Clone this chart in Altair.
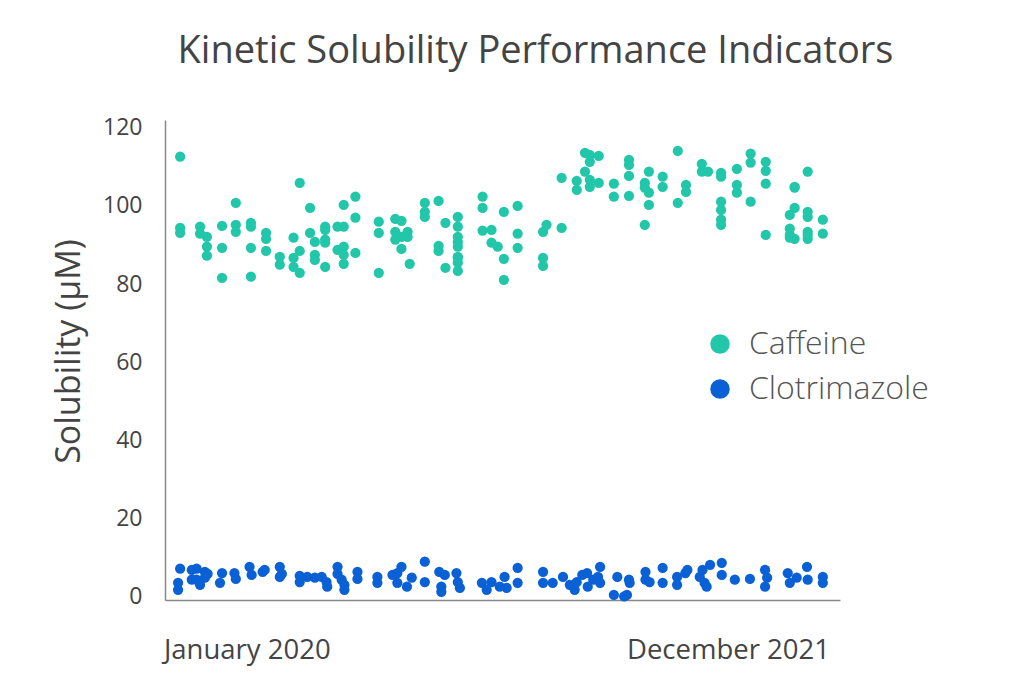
import altair as alt
import pandas as pd

# ---- data ----
caff_dates = [
    "2019-09-26", "2019-09-26", "2019-09-26",
    "2019-10-25", "2019-10-25",
    "2019-11-04", "2019-11-04", "2019-11-04",
    "2019-11-26", "2019-11-26", "2019-11-26",
    "2019-12-16", "2019-12-16", "2019-12-16",
    "2020-01-07", "2020-01-07", "2020-01-07", "2020-01-07",
    "2020-01-29", "2020-01-29", "2020-01-29",
    "2020-02-18", "2020-02-18",
    "2020-03-09", "2020-03-09", "2020-03-09",
    "2020-03-18", "2020-03-18", "2020-03-18",
    "2020-04-02", "2020-04-02",
    "2020-04-09", "2020-04-09", "2020-04-09",
    "2020-04-24", "2020-04-24", "2020-04-24", "2020-04-24", "2020-04-24",
    "2020-05-12", "2020-05-12",
    "2020-05-21", "2020-05-21", "2020-05-21", "2020-05-21", "2020-05-21",
    "2020-06-07", "2020-06-07", "2020-06-07",
    "2020-07-11", "2020-07-11", "2020-07-11",
    "2020-08-04", "2020-08-04", "2020-08-04",
    "2020-08-13", "2020-08-13", "2020-08-13",
    "2020-08-22", "2020-08-22",
    "2020-08-25",
    "2020-09-16", "2020-09-16", "2020-09-16",
    "2020-10-06", "2020-10-06", "2020-10-06",
    "2020-10-16", "2020-10-16",
    "2020-11-03", "2020-11-03", "2020-11-03", "2020-11-03", "2020-11-03",
    "2020-11-03", "2020-11-03", "2020-11-03", "2020-11-03",
    "2020-12-09", "2020-12-09", "2020-12-09",
    "2020-12-22", "2020-12-22",
    "2020-12-31",
    "2021-01-09", "2021-01-09", "2021-01-09",
    "2021-01-29", "2021-01-29", "2021-01-29",
    "2021-03-07", "2021-03-07", "2021-03-07",
    "2021-03-12",
    "2021-04-03", "2021-04-03",
    "2021-04-25", "2021-04-25",
    "2021-05-07", "2021-05-07",
    "2021-05-14", "2021-05-14", "2021-05-14", "2021-05-14",
    "2021-05-27", "2021-05-27",
    "2021-06-18", "2021-06-18",
    "2021-07-10", "2021-07-10", "2021-07-10", "2021-07-10",
    "2021-08-02", "2021-08-02", "2021-08-02",
    "2021-08-08", "2021-08-08", "2021-08-08",
    "2021-08-28", "2021-08-28",
    "2021-09-19", "2021-09-19",
    "2021-10-01", "2021-10-01",
    "2021-10-24", "2021-10-24",
    "2021-11-02",
    "2021-11-21", "2021-11-21", "2021-11-21", "2021-11-21", "2021-11-21", "2021-11-21",
    "2021-12-14", "2021-12-14", "2021-12-14",
    "2022-01-03", "2022-01-03", "2022-01-03",
    "2022-01-25", "2022-01-25", "2022-01-25", "2022-01-25",
    "2022-03-01", "2022-03-01", "2022-03-01", "2022-03-01",
    "2022-03-08", "2022-03-08", "2022-03-08", "2022-03-08",
    "2022-03-27", "2022-03-27", "2022-03-27", "2022-03-27", "2022-03-27", "2022-03-27",
    "2022-04-18", "2022-04-18",
]
caff_vals = [
    112.6, 94.4, 93.1,
    94.7, 92.9,
    92.1, 89.6, 87.3,
    94.9, 89.3, 81.6,
    100.8, 95.2, 93.4,
    95.7, 94.7, 89.3, 81.9,
    93.1, 91.6, 88.5,
    87.0, 85.0,
    91.9, 86.7, 84.4,
    105.9, 88.5, 82.9,
    99.5, 93.1,
    90.8, 87.5, 86.2,
    94.7, 93.9, 91.4, 90.6, 84.4,
    94.7, 88.8,
    100.3, 94.7, 89.6, 87.5, 85.2,
    102.4, 97.0, 88.0,
    96.0, 93.1, 82.9,
    96.7, 93.4, 91.4,
    96.2, 92.1, 89.0,
    93.4, 92.1,
    85.2,
    100.8, 98.5, 97.2,
    101.3, 89.8, 88.5,
    95.7, 84.2,
    97.2, 94.7, 92.1, 90.8, 89.6,
    87.0, 86.7, 85.5, 83.4,
    102.4, 99.5, 93.7,
    93.9, 90.6,
    89.6,
    98.5, 86.5, 81.1,
    100.0, 92.9, 89.3,
    93.4, 86.7, 84.7,
    95.2,
    94.4, 107.2,
    106.4, 104.1,
    113.6, 108.8,
    113.1, 111.3, 106.7, 104.9,
    112.8, 105.9,
    105.7, 102.4,
    111.8, 110.5, 107.7, 102.6,
    105.9, 104.7, 95.2,
    108.8, 103.4, 100.3,
    107.5, 104.9,
    114.1, 100.8,
    105.4, 103.6,
    110.8, 108.8,
    108.8,
    108.5, 107.5, 101.1, 99.0, 96.5, 95.2,
    109.5, 105.4, 103.4,
    113.4, 111.1, 101.1,
    111.3, 109.0, 105.7, 92.6,
    97.7, 94.2, 92.6, 91.9,
    104.9, 104.7, 99.5, 91.6,
    108.8, 98.5, 97.2, 93.4, 92.6, 91.6,
    96.5, 92.9,
]

clot_dates = [
    "2019-09-23", "2019-09-23", "2019-09-26",
    "2019-10-13", "2019-10-13", "2019-10-20", "2019-10-20", "2019-10-25",
    "2019-11-01", "2019-11-01", "2019-11-05", "2019-11-23", "2019-11-26",
    "2019-12-14", "2019-12-16",
    "2020-01-05", "2020-01-08", "2020-01-24", "2020-01-27",
    "2020-02-18", "2020-02-18", "2020-02-21",
    "2020-03-18", "2020-03-18", "2020-03-29",
    "2020-04-09", "2020-04-19", "2020-04-26", "2020-04-27",
    "2020-05-12", "2020-05-12", "2020-05-18", "2020-05-22", "2020-05-22",
    "2020-06-10", "2020-06-10",
    "2020-07-09", "2020-07-09", "2020-07-31",
    "2020-08-07", "2020-08-07", "2020-08-13", "2020-08-21", "2020-08-28",
    "2020-09-16", "2020-09-16",
    "2020-10-07", "2020-10-10", "2020-10-10", "2020-10-15",
    "2020-11-01", "2020-11-03", "2020-11-06",
    "2020-12-08", "2020-12-15", "2020-12-22",
    "2021-01-03", "2021-01-10", "2021-01-13", "2021-01-29", "2021-01-29",
    "2021-03-07", "2021-03-07", "2021-03-21",
    "2021-04-05", "2021-04-15", "2021-04-22", "2021-04-25",
    "2021-05-03", "2021-05-10", "2021-05-11", "2021-05-19", "2021-05-26",
    "2021-05-29", "2021-05-29",
    "2021-06-18", "2021-06-23",
    "2021-07-03", "2021-07-07", "2021-07-10", "2021-07-11",
    "2021-08-03", "2021-08-03", "2021-08-09", "2021-08-28", "2021-08-28",
    "2021-09-18", "2021-09-18", "2021-09-30",
    "2021-10-03", "2021-10-21", "2021-10-25", "2021-10-28", "2021-10-31",
    "2021-11-05", "2021-11-22", "2021-11-22",
    "2021-12-11",
    "2022-01-02", "2022-01-24", "2022-01-24", "2022-01-27",
    "2022-02-26", "2022-03-01", "2022-03-11", "2022-03-26", "2022-03-27",
    "2022-04-18", "2022-04-18",
]
clot_vals = [
    3.6, 1.8, 7.2,
    6.9, 4.4, 7.2, 4.4, 3.1,
    6.4, 4.9, 5.9, 3.6, 6.1,
    6.1, 4.6,
    7.7, 5.6, 6.4, 6.9,
    7.7, 5.1, 5.9,
    5.4, 3.8, 5.1,
    4.9, 5.1, 3.8, 2.6,
    7.7, 5.9, 4.4, 3.1, 1.8,
    6.4, 4.6,
    5.1, 3.6, 5.6,
    6.1, 3.6, 7.7, 2.6, 4.9,
    9.0, 3.8,
    6.4, 2.6, 1.3, 5.6,
    6.1, 3.8, 2.3,
    3.6, 1.8, 3.8,
    2.6, 5.1, 2.3, 7.4, 3.6,
    6.4, 3.6, 3.6,
    5.1, 3.1, 1.8, 3.8,
    5.6, 6.1, 2.6, 4.4, 5.1,
    7.7, 3.6,
    0.5, 5.1,
    0.1, 0.5, 4.4, 3.6,
    6.4, 4.4, 3.8, 7.4, 3.6,
    5.1, 3.1, 6.1,
    6.9, 5.1, 6.9, 3.6, 2.6,
    8.2, 8.7, 5.6,
    4.4,
    4.6, 6.9, 2.6, 4.9,
    6.1, 3.6, 4.9, 7.7, 4.4,
    5.1, 3.6,
]

series_names = ["Caffeine", "Clotrimazole"]
series_colors = ["#22c7a9", "#0a61d6"]
y_ticks = [0, 20, 40, 60, 80, 100, 120]

df = pd.concat([
    pd.DataFrame({"date": caff_dates, "value": caff_vals, "compound": series_names[0]}),
    pd.DataFrame({"date": clot_dates, "value": clot_vals, "compound": series_names[1]}),
])

FONT = "Open Sans"

chart = alt.Chart(df).mark_circle(size=105, opacity=1).encode(
    x=alt.X(
        "date:T",
        scale=alt.Scale(type="utc", domain=[
            alt.DateTime(year=2019, month=9, date=4, utc=True),
            alt.DateTime(year=2022, month=5, date=13, utc=True),
        ], nice=False),
        axis=alt.Axis(
            title=None,
            values=[alt.DateTime(year=2020, month=1, date=1, utc=True),
                    alt.DateTime(year=2021, month=12, date=1, utc=True)],
            format="%B %Y",
            grid=False, ticks=False,
            labelFont=FONT, labelFontSize=27.5, labelColor="#444",
            labelPadding=36, labelFlush=False, labelOverlap=False,
            labelLimit=0,
            domainColor="#888", domainWidth=1.5,
        ),
    ),
    y=alt.Y(
        "value:Q",
        scale=alt.Scale(domain=[-0.8, 122], nice=False, zero=False),
        axis=alt.Axis(
            title="Solubility (μM)",
            values=y_ticks,
            grid=False, ticks=False,
            labelFont=FONT, labelFontSize=23, labelColor="#444",
            labelPadding=23,
            titleFont=FONT, titleFontSize=34, titleFontWeight="normal",
            titleColor="#444", titlePadding=16, titleY=231,
            domainColor="#888", domainWidth=1.5,
        ),
    ),
    color=alt.Color(
        "compound:N",
        scale=alt.Scale(domain=series_names, range=series_colors),
        legend=alt.Legend(
            title=None, orient="none", legendX=539, legendY=208,
            symbolType="circle", symbolSize=380, symbolStrokeWidth=0,
            labelFont=FONT, labelFontSize=32, labelFontWeight=300,
            labelColor="#555", labelOffset=13, rowPadding=13, padding=0,
            labelLimit=0,
        ),
    ),
).properties(
    width=675,
    height=480,
    title=alt.TitleParams(
        "Kinetic Solubility Performance Indicators",
        font=FONT, fontSize=38, fontWeight="normal", color="#444",
        anchor="middle", dx=33, offset=46,
    ),
    autosize=alt.AutoSizeParams(type="none"),
    padding={"left": 157, "top": 112, "right": 171, "bottom": 89},
).configure_view(strokeWidth=0, stroke="transparent")

chart.save("out.html", embed_options={"renderer": "svg", "actions": False})
